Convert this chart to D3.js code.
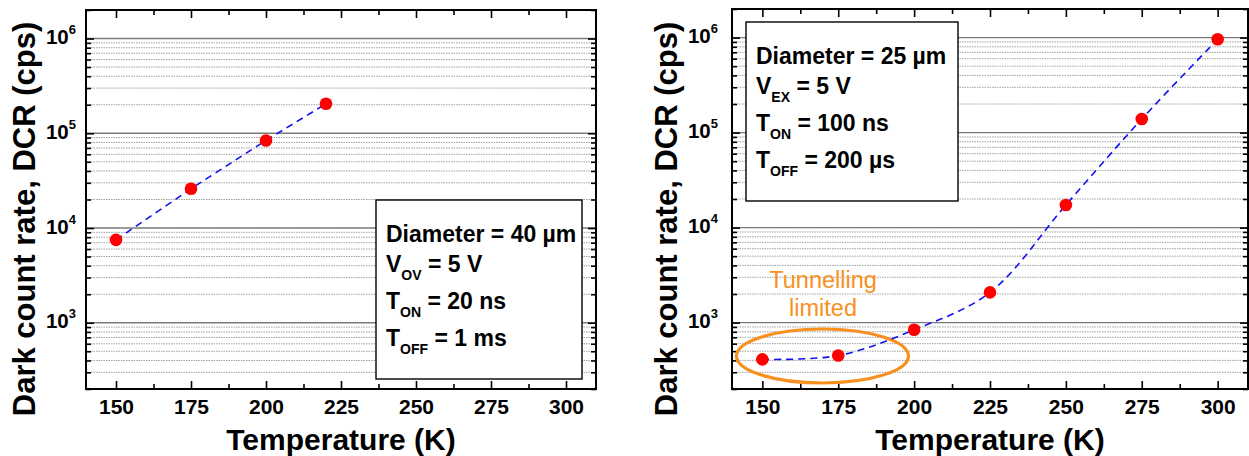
<!DOCTYPE html>
<html>
<head>
<meta charset="utf-8">
<script src="https://cdn.jsdelivr.net/npm/d3@7"></script>
<style>
  body { margin: 0; background: #fff; }
  svg { font-family: "Liberation Sans", Arial, sans-serif; }
</style>
</head>
<body>
<div id="chart"></div>
<script>
// Data
const leftTemps = [150, 175, 200, 220];
const leftDCR = [7500, 26000, 84000, 205000];
const rightTemps = [150, 175, 200, 225, 250, 275, 300];
const rightDCR = [410, 450, 840, 2080, 17300, 139000, 960000];

const xTicks = [150, 175, 200, 225, 250, 275, 300];
const xMinorTicks = [162.5, 187.5, 212.5, 237.5, 262.5, 287.5];
const yTicks = [1e3, 1e4, 1e5, 1e6];
const yExponents = ["3", "4", "5", "6"];

const leftLegend = [
    {main: "Diameter = 40 µm"},
    {main: "V", sub: "OV", rest: " = 5 V"},
    {main: "T", sub: "ON", rest: " = 20 ns"},
    {main: "T", sub: "OFF", rest: " = 1 ms"}
];
const rightLegend = [
    {main: "Diameter = 25 µm"},
    {main: "V", sub: "EX", rest: " = 5 V"},
    {main: "T", sub: "ON", rest: " = 100 ns"},
    {main: "T", sub: "OFF", rest: " = 200 µs"}
];

const width = 1249;
const height = 456;

const svg = d3.select("#chart")
    .append("svg")
    .attr("width", width)
    .attr("height", height);

// minor log values between decades (2..9 x 10^n) inside the domain
function minorValues(lo, hi) {
    const out = [];
    for (let e = 2; e <= 6; e++) {
        for (let m = 2; m <= 9; m++) {
            const v = m * Math.pow(10, e);
            if (v >= lo && v <= hi && !yTicks.includes(v)) out.push(v);
        }
    }
    return out;
}

function drawPanel(p) {
    const g = svg.append("g");

    const x = d3.scaleLinear().domain([140, 310]).range([p.x0, p.x1]);
    const y = d3.scaleLog().domain([200, 2e6]).range([p.y1, p.y0]);
    const yMinor = minorValues(200, 2e6);

    // grid lines
    g.selectAll(".minor-grid")
        .data(yMinor)
        .enter().append("line")
        .attr("x1", p.x0).attr("x2", p.x1)
        .attr("y1", d => y(d)).attr("y2", d => y(d))
        .attr("stroke", "#a0a0a0")
        .attr("stroke-width", 1)
        .attr("stroke-dasharray", "1.5,1");

    g.selectAll(".major-grid")
        .data(yTicks)
        .enter().append("line")
        .attr("x1", p.x0).attr("x2", p.x1)
        .attr("y1", d => y(d)).attr("y2", d => y(d))
        .attr("stroke", "#7a7a7a")
        .attr("stroke-width", 1.4);

    // inward ticks on all four sides
    const tickAxes = [
        [d3.axisBottom(x).tickValues(xTicks).tickSize(-8), `translate(0,${p.y1})`],
        [d3.axisBottom(x).tickValues(xMinorTicks).tickSize(-5), `translate(0,${p.y1})`],
        [d3.axisTop(x).tickValues(xTicks).tickSize(-8), `translate(0,${p.y0})`],
        [d3.axisTop(x).tickValues(xMinorTicks).tickSize(-5), `translate(0,${p.y0})`],
        [d3.axisLeft(y).tickValues(yTicks).tickSize(-8), `translate(${p.x0},0)`],
        [d3.axisLeft(y).tickValues(yMinor).tickSize(-5), `translate(${p.x0},0)`],
        [d3.axisRight(y).tickValues(yTicks).tickSize(-8), `translate(${p.x1},0)`],
        [d3.axisRight(y).tickValues(yMinor).tickSize(-5), `translate(${p.x1},0)`]
    ];
    tickAxes.forEach(([ax, tr]) => {
        const a = g.append("g").attr("transform", tr).call(ax.tickFormat(""));
        a.select(".domain").remove();
        a.selectAll("line").attr("stroke", "#000").attr("stroke-width", 1.6);
    });

    // x tick labels
    const xLab = g.append("g")
        .attr("transform", `translate(0,${p.y1})`)
        .call(d3.axisBottom(x).tickValues(xTicks).tickSize(0).tickPadding(10));
    xLab.select(".domain").remove();
    xLab.selectAll("text")
        .attr("font-family", "Liberation Sans, Arial, sans-serif")
        .attr("font-size", 21)
        .attr("font-weight", "bold")
        .attr("fill", "#000");

    // y tick labels with superscript exponents
    const yLab = g.append("g")
        .attr("transform", `translate(${p.x0},0)`)
        .call(d3.axisLeft(y).tickValues(yTicks).tickSize(0).tickPadding(p.labelGap).tickFormat(""));
    yLab.select(".domain").remove();
    yLab.selectAll("text")
        .attr("font-family", "Liberation Sans, Arial, sans-serif")
        .attr("font-weight", "bold")
        .attr("fill", "#000")
        .attr("dy", "0.5em")
        .each(function(d, i) {
            const t = d3.select(this);
            t.append("tspan").attr("font-size", 20.5).text("10");
            t.append("tspan").attr("font-size", 13).attr("dy", -10).text(yExponents[i]);
        });

    // frame
    g.append("rect")
        .attr("x", p.x0).attr("y", p.y0)
        .attr("width", p.x1 - p.x0).attr("height", p.y1 - p.y0)
        .attr("fill", "none")
        .attr("stroke", "#000")
        .attr("stroke-width", 2);

    // axis titles
    g.append("text")
        .attr("x", (p.x0 + p.x1) / 2)
        .attr("y", 450)
        .attr("text-anchor", "middle")
        .attr("font-size", 30)
        .attr("font-weight", "bold")
        .text("Temperature (K)");

    g.append("text")
        .attr("transform", `translate(${p.titleX},${219}) rotate(-90)`)
        .attr("text-anchor", "middle")
        .attr("font-size", 31)
        .attr("font-weight", "bold")
        .text("Dark count rate, DCR (cps)");

    // extra annotation (drawn under data)
    if (p.annotate) p.annotate(g, x, y);

    // dashed guide through the measurements
    const pts = p.temps.map((t, i) => [t, p.dcr[i]]);
    const line = d3.line()
        .x(d => x(d[0]))
        .y(d => y(d[1]))
        .curve(p.curve);
    g.append("path")
        .datum(pts)
        .attr("d", line)
        .attr("fill", "none")
        .attr("stroke", "#1010f0")
        .attr("stroke-width", 1.6)
        .attr("stroke-dasharray", "7,5");

    g.selectAll(".pt")
        .data(pts)
        .enter().append("circle")
        .attr("cx", d => x(d[0]))
        .attr("cy", d => y(d[1]))
        .attr("r", 6.3)
        .attr("fill", "#ff0000");

    // legend box
    const lb = p.legendBox;
    const leg = g.append("g");
    leg.append("rect")
        .attr("x", lb.x).attr("y", lb.y)
        .attr("width", lb.w).attr("height", lb.h)
        .attr("fill", "#fff")
        .attr("stroke", "#000")
        .attr("stroke-width", 1.4);
    const lineOffsets = [0, 30, 67, 104];
    p.legend.forEach((row, i) => {
        const t = leg.append("text")
            .attr("x", lb.x + 10)
            .attr("y", lb.y + 42 + lineOffsets[i])
            .attr("font-size", 23)
            .attr("font-weight", "bold");
        t.append("tspan").text(row.main);
        if (row.sub) {
            t.append("tspan").attr("font-size", 14).attr("dy", 8).text(row.sub);
            t.append("tspan").attr("dy", -8).text(row.rest);
        }
    });
}

drawPanel({
    x0: 86, x1: 596, y0: 10, y1: 389,
    labelGap: 10, titleX: 35,
    temps: leftTemps, dcr: leftDCR,
    curve: d3.curveLinear,
    legend: leftLegend,
    legendBox: {x: 376, y: 200, w: 206, h: 179}
});

drawPanel({
    x0: 732, x1: 1248, y0: 9, y1: 389,
    labelGap: 14, titleX: 677,
    temps: rightTemps, dcr: rightDCR,
    curve: d3.curveCatmullRom.alpha(0.5),
    legend: rightLegend,
    legendBox: {x: 746, y: 22, w: 212, h: 179},
    annotate: (g, x, y) => {
        const orange = "#f7901e";
        g.append("ellipse")
            .attr("cx", x(169.8)).attr("cy", 356)
            .attr("rx", 86).attr("ry", 27)
            .attr("fill", "none")
            .attr("stroke", orange)
            .attr("stroke-width", 3.2);
        g.append("text")
            .attr("x", x(170)).attr("y", 288)
            .attr("text-anchor", "middle")
            .attr("font-size", 23.5)
            .attr("fill", orange)
            .text("Tunnelling");
        g.append("text")
            .attr("x", x(170)).attr("y", 316)
            .attr("text-anchor", "middle")
            .attr("font-size", 23.5)
            .attr("fill", orange)
            .text("limited");
    }
});
</script>
</body>
</html>
